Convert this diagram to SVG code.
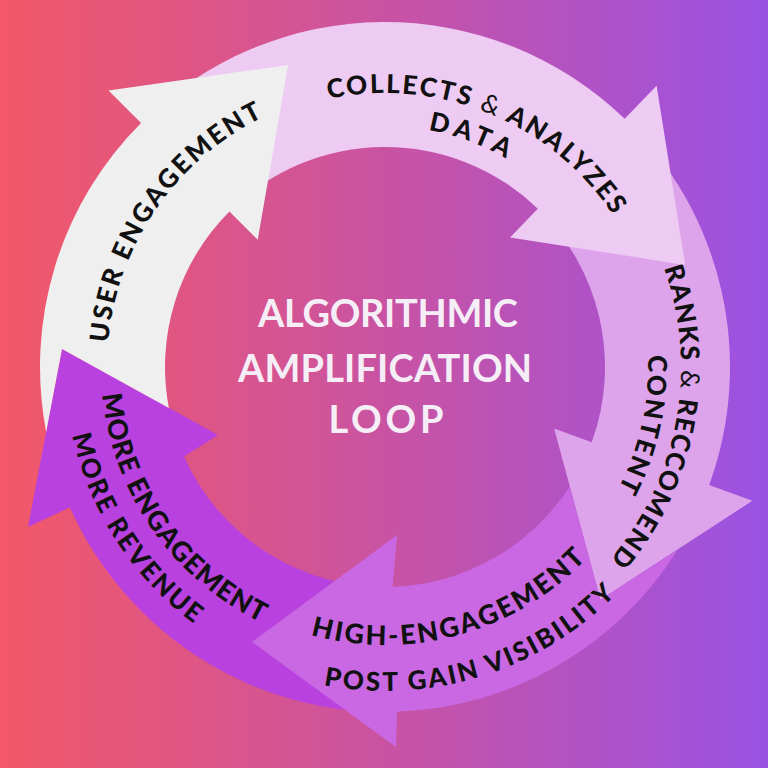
<svg xmlns="http://www.w3.org/2000/svg" width="768" height="768" viewBox="0 0 768 768">
  <defs>
    <linearGradient id="bg" x1="0" y1="0" x2="1" y2="0">
      <stop offset="0" stop-color="#f35868"/>
      <stop offset="0.5" stop-color="#c953a2"/>
      <stop offset="1" stop-color="#9a52e4"/>
    </linearGradient>
    <path id="t1" d="M108.06,391.23 A278,278 0 0 1 308.37,99.77"/>
    <path id="t2" d="M300.33,106.41 A274,274 0 0 1 627.82,240.06"/>
    <path id="t3" d="M343.98,129.52 A241,241 0 0 1 570.16,212.73"/>
    <path id="t4" d="M642.63,221.24 A296,296 0 0 1 573.28,595.40"/>
    <path id="t5" d="M635.83,287.91 A263,263 0 0 1 578.90,544.68"/>
    <path id="t6" d="M269.27,619.77 A278,278 0 0 0 613.84,524.86"/>
    <path id="t7" d="M259.44,665.68 A324,324 0 0 0 657.34,542.51"/>
    <path id="t8" d="M102.17,341.26 A284,284 0 0 0 310.54,641.07"/>
    <path id="t9" d="M67.52,326.89 A320,320 0 0 0 290.37,672.69"/>
  </defs>
  <style>
    .lbl { font-family: Lato, "Liberation Sans", sans-serif; font-weight: 900; fill: #111111; text-anchor: middle; }
    .amp { font-weight: 400; }
    .title { font-family: Lato, "Liberation Sans", sans-serif; font-weight: 700; font-size: 38px; fill: #f5eef6; text-anchor: middle; }
  </style>
  <rect width="768" height="768" fill="url(#bg)"/>

  <g id="connectors"></g>

  <g id="step-more-engagement">
    <path fill="#b941e0" d="M397.04,711.79 A345,345 0 0 1 69.83,507.33 L28,527 L62,349 L218,435 L184.02,456.48 A220,220 0 0 0 392.68,586.87 Z"/>
    <text class="lbl" font-size="27"><textPath href="#t8" startOffset="50%" textLength="290">MORE ENGAGEMENT</textPath></text>
    <text class="lbl" font-size="26"><textPath href="#t9" startOffset="50%" textLength="229">MORE REVENUE</textPath></text>
  </g>

  <g id="step-ranks-recommend">
    <path fill="#dda4eb" d="M624.66,118.83 A345,345 0 0 1 709.19,485.00 L752.42,500.73 L600.40,599.71 L554.14,428.56 L591.73,442.24 A220,220 0 0 0 537.83,208.75 Z"/>
    <text class="lbl" font-size="26"><textPath href="#t4" startOffset="50%" textLength="310">RANKS <tspan class="amp">&amp;</tspan> RECCOMEND</textPath></text>
    <text class="lbl" font-size="26"><textPath href="#t5" startOffset="50%" textLength="138">CONTENT</textPath></text>
  </g>

  <g id="step-collects-data">
    <path fill="#eecbf3" d="M141.05,123.05 A345,345 0 0 1 624.66,118.83 L656.61,85.74 L685.19,264.88 L510.04,237.52 L537.83,208.75 A220,220 0 0 0 229.44,211.44 Z"/>
    <text class="lbl" font-size="26"><textPath href="#t2" startOffset="50%" textLength="326">COLLECTS <tspan class="amp">&amp;</tspan> ANALYZES</textPath></text>
    <text class="lbl" font-size="26"><textPath href="#t3" startOffset="50%" textLength="83">DATA</textPath></text>
  </g>

  <g id="step-user-engagement">
    <path fill="#efefef" d="M46.16,431.91 L62,349 L168.83,407.89 A220,220 0 0 1 229.44,211.44 L257.72,239.72 L288.13,65.07 L108.52,90.52 L141.05,123.05 A345,345 0 0 0 46.16,431.91 Z"/>
    <text class="lbl" font-size="26"><textPath href="#t1" startOffset="50%" textLength="286">USER ENGAGEMENT</textPath></text>
  </g>

  <g id="step-high-engagement">
    <path fill="#c968e2" d="M677.96,549.21 A345,345 0 0 1 397.04,711.79 L396,747 L252,642 L397,535 L392.68,586.87 A220,220 0 0 0 569.78,486.41 L600.40,599.71 Z"/>
    <text class="lbl" font-size="27"><textPath href="#t6" startOffset="50%" textLength="300">HIGH-ENGAGEMENT</textPath></text>
    <text class="lbl" font-size="26"><textPath href="#t7" startOffset="50%" textLength="318">POST GAIN VISIBILITY</textPath></text>
  </g>

  <g id="title">
    <text class="title" x="388" y="327" textLength="260">ALGORITHMIC</text>
    <text class="title" x="385" y="382" textLength="294">AMPLIFICATION</text>
    <text class="title" x="386" y="433" textLength="115">LOOP</text>
  </g>
</svg>
